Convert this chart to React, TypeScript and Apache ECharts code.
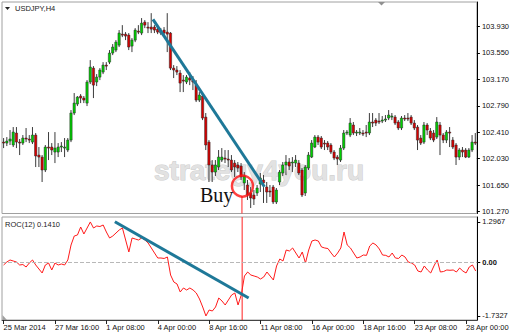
import React, { useEffect, useRef } from 'react';
import * as echarts from 'echarts';

const timeLabels = ['25 Mar 2014', '27 Mar 16:00', '1 Apr 08:00', '4 Apr 00:00', '8 Apr 16:00', '11 Apr 08:00', '16 Apr 00:00', '18 Apr 16:00', '23 Apr 08:00', '28 Apr 00:00'];
const timeLabelBars = [0, 16, 32, 48, 64, 80, 96, 112, 128, 144];
const priceTicks = [101.27, 101.65, 102.03, 102.41, 102.79, 103.17, 103.55, 103.93];
const rocTicks = [1.2967, 0, -1.7327];

// USDJPY H4 candles: [open, close, low, high]
const candles: number[][] = [
  [102.269, 102.255, 102.183, 102.327], [102.255, 102.284, 102.212, 102.341], [102.284, 102.313, 102.227, 102.442], [102.227, 102.413, 102.198, 102.485],
  [102.399, 102.269, 102.183, 102.485], [102.269, 102.255, 102.083, 102.313], [102.255, 102.327, 102.227, 102.370], [102.327, 102.313, 102.269, 102.471],
  [102.313, 102.298, 102.255, 102.370], [102.269, 102.370, 102.241, 102.485], [102.370, 102.069, 101.911, 102.399], [102.083, 102.054, 101.911, 102.198],
  [102.054, 101.868, 101.696, 102.083], [101.868, 102.198, 101.839, 102.227], [102.198, 102.183, 102.011, 102.413], [102.198, 102.155, 102.083, 102.255],
  [102.126, 102.183, 101.968, 102.413], [102.126, 102.198, 102.054, 102.255], [102.198, 102.212, 102.126, 102.269], [102.183, 102.198, 102.054, 102.327],
  [102.155, 102.298, 102.126, 102.327], [102.298, 102.686, 102.269, 102.729], [102.686, 102.829, 102.657, 102.973], [102.815, 102.915, 102.786, 102.930],
  [102.930, 102.901, 102.829, 102.958], [102.901, 102.872, 102.829, 102.930], [102.829, 103.131, 102.786, 103.159], [103.131, 103.346, 103.102, 103.446],
  [103.331, 103.087, 102.901, 103.360], [103.131, 103.202, 103.073, 103.245], [103.202, 103.303, 103.159, 103.331], [103.274, 103.374, 103.245, 103.417],
  [103.374, 103.360, 103.303, 103.417], [103.417, 103.547, 103.389, 103.590], [103.547, 103.633, 103.518, 103.676], [103.590, 103.704, 103.561, 103.733],
  [103.661, 103.834, 103.633, 103.877], [103.819, 103.805, 103.776, 103.948], [103.819, 103.791, 103.733, 103.848], [103.805, 103.633, 103.590, 103.834],
  [103.647, 103.733, 103.561, 103.762], [103.733, 103.877, 103.704, 103.905], [103.862, 103.848, 103.819, 103.948], [103.834, 103.977, 103.805, 104.049],
  [103.991, 103.948, 103.905, 104.020], [103.920, 103.905, 103.834, 103.991], [103.920, 103.891, 103.834, 104.120], [103.920, 103.877, 103.834, 103.948],
  [103.891, 103.848, 103.819, 103.920], [103.862, 103.834, 103.805, 103.905], [103.877, 103.834, 103.791, 103.920], [103.848, 103.819, 103.561, 104.120],
  [103.834, 103.331, 103.303, 103.848], [103.331, 103.303, 103.188, 103.374], [103.303, 103.274, 103.231, 103.360], [103.260, 103.116, 102.987, 103.303],
  [103.159, 103.145, 102.987, 103.231], [103.131, 103.202, 103.102, 103.231], [103.188, 103.159, 103.087, 103.274], [103.159, 103.131, 103.016, 103.217],
  [103.087, 102.872, 102.844, 103.159], [102.872, 102.944, 102.844, 102.987], [102.930, 102.614, 102.585, 102.958], [102.628, 102.227, 102.155, 102.686],
  [102.269, 101.940, 101.696, 102.298], [101.940, 101.839, 101.696, 102.011], [101.839, 101.940, 101.782, 102.011], [101.911, 102.054, 101.868, 102.155],
  [102.011, 102.054, 101.983, 102.183], [102.040, 102.026, 101.968, 102.155], [102.026, 102.011, 101.911, 102.155], [102.011, 101.868, 101.839, 102.083],
  [101.968, 101.911, 101.768, 102.011], [101.940, 101.897, 101.839, 101.983], [101.925, 101.768, 101.725, 101.968], [101.682, 101.782, 101.581, 101.839],
  [101.653, 101.509, 101.438, 101.725], [101.538, 101.466, 101.323, 101.624], [101.509, 101.452, 101.366, 101.581], [101.538, 101.610, 101.495, 101.653],
  [101.667, 101.753, 101.552, 101.825], [101.725, 101.682, 101.395, 101.796], [101.624, 101.552, 101.395, 101.696], [101.567, 101.552, 101.481, 101.653],
  [101.624, 101.409, 101.380, 101.653], [101.409, 101.581, 101.380, 101.610], [101.696, 101.839, 101.653, 101.868], [101.825, 101.940, 101.782, 101.983],
  [101.940, 101.983, 101.796, 102.083], [101.983, 101.925, 101.868, 102.040], [101.968, 101.983, 101.839, 102.054], [101.968, 102.011, 101.911, 102.083],
  [101.968, 101.825, 101.796, 102.011], [101.868, 101.509, 101.481, 101.897], [101.538, 101.911, 101.495, 101.940], [101.897, 102.083, 101.868, 102.126],
  [102.054, 102.255, 102.040, 102.298], [102.198, 102.341, 102.183, 102.370], [102.341, 102.269, 102.227, 102.370], [102.327, 102.198, 102.169, 102.356],
  [102.255, 102.241, 102.155, 102.298], [102.255, 102.198, 102.155, 102.284], [102.227, 102.126, 102.097, 102.255], [102.126, 102.040, 102.011, 102.155],
  [102.054, 102.026, 101.940, 102.083], [102.011, 102.183, 101.983, 102.227], [102.183, 102.399, 102.155, 102.442], [102.399, 102.413, 102.370, 102.442],
  [102.370, 102.542, 102.341, 102.614], [102.514, 102.399, 102.370, 102.557], [102.399, 102.413, 102.356, 102.442], [102.399, 102.413, 102.370, 102.471],
  [102.399, 102.385, 102.356, 102.442], [102.413, 102.399, 102.341, 102.514], [102.399, 102.557, 102.370, 102.686], [102.557, 102.542, 102.485, 102.686],
  [102.585, 102.542, 102.499, 102.614], [102.571, 102.557, 102.528, 102.686], [102.571, 102.585, 102.542, 102.643], [102.585, 102.600, 102.557, 102.657],
  [102.614, 102.657, 102.585, 102.729], [102.628, 102.643, 102.585, 102.686], [102.628, 102.542, 102.514, 102.657], [102.557, 102.471, 102.442, 102.585],
  [102.471, 102.614, 102.442, 102.643], [102.614, 102.600, 102.571, 102.657], [102.614, 102.600, 102.571, 102.686], [102.628, 102.542, 102.514, 102.657],
  [102.542, 102.471, 102.442, 102.585], [102.485, 102.298, 102.155, 102.514], [102.327, 102.255, 102.227, 102.370], [102.269, 102.514, 102.241, 102.557],
  [102.514, 102.442, 102.370, 102.542], [102.428, 102.327, 102.298, 102.471], [102.399, 102.298, 102.269, 102.442], [102.341, 102.557, 102.313, 102.628],
  [102.514, 102.370, 102.083, 102.557], [102.370, 102.298, 102.255, 102.399], [102.298, 102.413, 102.255, 102.442], [102.413, 102.399, 102.198, 102.485],
  [102.298, 102.198, 102.169, 102.341], [102.227, 102.054, 101.940, 102.255], [102.054, 102.155, 102.011, 102.183], [102.155, 102.126, 102.054, 102.198],
  [102.155, 102.054, 102.040, 102.183], [102.054, 102.155, 102.040, 102.183], [102.155, 102.269, 102.126, 102.370], [102.269, 102.255, 102.227, 102.399],
];

// ROC(12) per bar
const roc: number[] = [
  -0.090, 0.006, 0.071, 0.039, 0.006, -0.090, -0.075, -0.155, -0.026, 0.071,
  -0.090, -0.219, -0.348, -0.090, -0.026, -0.251, -0.026, -0.090, -0.058, -0.090,
  0.071, 0.554, 0.844, 0.877, 1.134, 0.909, 1.102, 1.2967, 1.102, 1.167,
  1.150, 1.199, 0.973, 0.780, 0.844, 0.941, 1.038, 1.102, 0.715, 0.329,
  0.780, 0.748, 0.715, 0.780, 0.715, 0.619, 0.458, 0.296, 0.135, 0.135,
  0.120, 0.168, -0.413, -0.638, -0.702, -0.960, -0.831, -0.896, -0.831, -0.896,
  -0.993, -1.186, -1.444, -1.7327, -1.540, -1.573, -1.444, -1.154, -1.250, -1.379,
  -1.218, -1.057, -0.993, -1.379, -1.057, -0.445, -0.316, -0.413, -0.445, -0.477,
  -0.541, -0.477, -0.316, -0.445, -0.574, -0.122, 0.103, 0.039, 0.393, 0.361,
  0.458, 0.296, 0.135, 0.329, -0.026, 0.393, 0.683, 0.715, 0.683, 0.490,
  0.458, 0.440, 0.296, 0.168, 0.296, 0.458, 0.973, 0.554, 0.458, 0.296,
  0.135, 0.168, 0.232, 0.220, 0.522, 0.619, 0.554, 0.425, 0.232, 0.220,
  0.168, 0.296, 0.135, 0.120, 0.232, 0.168, 0.006, -0.026, -0.090, -0.284,
  -0.316, -0.122, -0.251, -0.348, -0.122, 0.071, -0.316, -0.300, -0.251, -0.260,
  -0.251, -0.316, -0.187, -0.284, -0.348, -0.155, -0.090, -0.284,
];

const priceTrend = [[46.55, 104.03], [81.28, 101.628]];
const rocTrend = [[34.64, 1.305], [76.3, -1.154]];
const signalBar = 74.28;
const signalCircle = [74.44, 101.638];
const signalLineTop = 101.495;

const PRICE_MIN = 101.244, PRICE_MAX = 104.28;
const ROC_MIN = -1.8627, ROC_MAX = 1.4567;

export default function App() {
  const ref = useRef<HTMLDivElement>(null);
  useEffect(() => {
    if (!ref.current) return;
    const chart = echarts.init(ref.current, null, { renderer: 'svg' });
    const font = '"Liberation Sans", Arial, sans-serif';
    const fs = 7.5;
    const option: any = {
      animation: false,
      backgroundColor: '#ffffff',
      textStyle: { fontFamily: font },
      grid: [
        { left: 2, top: 2, width: 476, height: 211.5, show: true, borderColor: '#a0a0a0', borderWidth: 1 },
        { left: 2, top: 217, width: 476, height: 103, show: true, borderColor: '#a0a0a0', borderWidth: 1 },
      ],
      xAxis: [
        { type: 'value', gridIndex: 0, min: -0.5, max: 147.5, show: false },
        {
          type: 'value', gridIndex: 1, min: -0.5, max: 147.5, position: 'bottom',
          splitLine: { show: false },
          axisLine: { show: true, onZero: false, lineStyle: { color: '#444', width: 1 } },
          axisTick: { show: true, customValues: timeLabelBars, length: 4, lineStyle: { color: '#222' } },
          axisLabel: {
            customValues: timeLabelBars,
            formatter: (v: number) => timeLabels[timeLabelBars.indexOf(Math.round(v))] ?? '',
            align: 'left', fontSize: fs, color: '#111', margin: 3, fontFamily: font,
          },
        },
      ],
      yAxis: [
        {
          type: 'value', gridIndex: 0, position: 'right', min: PRICE_MIN, max: PRICE_MAX,
          splitLine: { show: false },
          axisLine: { show: true, onZero: false, lineStyle: { color: '#000' } },
          axisTick: { show: true, customValues: priceTicks, length: 3, lineStyle: { color: '#000' } },
          axisLabel: { customValues: priceTicks, formatter: (v: number) => v.toFixed(3), fontSize: fs, color: '#111', margin: 5, fontFamily: font },
        },
        {
          type: 'value', gridIndex: 1, position: 'right', min: ROC_MIN, max: ROC_MAX,
          splitLine: { show: false },
          axisLine: { show: true, onZero: false, lineStyle: { color: '#000' } },
          axisTick: { show: true, customValues: rocTicks, length: 3, lineStyle: { color: '#000' } },
          axisLabel: {
            customValues: rocTicks,
            formatter: (v: number) => (Math.abs(v) < 1e-9 ? '{b|0.00}' : v.toFixed(4)),
            rich: { b: { fontWeight: 'bold', fontSize: fs, color: '#111', fontFamily: font } },
            fontSize: fs, color: '#111', margin: 5, fontFamily: font,
          },
        },
      ],
      series: [
        {
          type: 'custom', name: 'candles', xAxisIndex: 0, yAxisIndex: 0, z: 3,
          data: candles.map((c, i) => [i, c[0], c[1], c[2], c[3]]),
          encode: { x: 0, y: [1, 2, 3, 4] },
          renderItem: (params: any, api: any) => {
            const i = api.value(0);
            const o = api.value(1), c = api.value(2), l = api.value(3), h = api.value(4);
            const pO = api.coord([i, o]);
            const pC = api.coord([i, c]);
            const pL = api.coord([i, l]);
            const pH = api.coord([i, h]);
            const w = api.size([1, 0])[0] * 0.72;
            const x = pO[0];
            const top = Math.min(pO[1], pC[1]);
            const hgt = Math.max(1, Math.abs(pO[1] - pC[1]));
            const fill = c > o ? '#00d000' : c < o ? '#d80000' : '#222';
            return {
              type: 'group',
              children: [
                { type: 'line', shape: { x1: x, y1: pH[1], x2: x, y2: pL[1] }, style: { stroke: '#3c3c3c', lineWidth: 1 } },
                { type: 'rect', shape: { x: x - w / 2, y: top, width: w, height: hgt }, style: { fill, stroke: '#262626', lineWidth: 0.5 } },
              ],
            };
          },
        },
        {
          type: 'line', name: 'priceTrend', xAxisIndex: 0, yAxisIndex: 0, z: 5,
          data: priceTrend, symbol: 'none', lineStyle: { color: '#1e7898', width: 3 }, silent: true,
        },
        {
          type: 'line', name: 'signalMain', xAxisIndex: 0, yAxisIndex: 0, z: 4,
          data: [[signalBar, signalLineTop], [signalBar, PRICE_MIN]], symbol: 'none', lineStyle: { color: '#ff2020', width: 1 }, silent: true,
        },
        {
          type: 'scatter', name: 'circle', xAxisIndex: 0, yAxisIndex: 0, z: 6,
          data: [signalCircle], symbol: 'circle', symbolSize: 21,
          itemStyle: { color: 'rgba(0,0,0,0)', borderColor: '#ff1010', borderWidth: 2.5 }, silent: true,
        },
        {
          type: 'line', name: 'ROC', xAxisIndex: 1, yAxisIndex: 1, z: 3,
          data: roc.map((v, i) => [i, v]), symbol: 'none', lineStyle: { color: '#ff1a1a', width: 1 }, silent: true,
          markLine: {
            silent: true, symbol: ['none', 'none'], label: { show: false },
            lineStyle: { color: '#b8b8b8', type: 'dashed', width: 1 },
            data: [{ yAxis: 0 }],
          },
        },
        {
          type: 'line', name: 'rocTrend', xAxisIndex: 1, yAxisIndex: 1, z: 5,
          data: rocTrend, symbol: 'none', lineStyle: { color: '#1e7898', width: 3 }, silent: true,
        },
        {
          type: 'line', name: 'signalRoc', xAxisIndex: 1, yAxisIndex: 1, z: 4,
          data: [[signalBar, ROC_MAX], [signalBar, ROC_MIN]], symbol: 'none', lineStyle: { color: '#ff2020', width: 1 }, silent: true,
        },
      ],
      graphic: [
        {
          type: 'text', z: 0, silent: true,
          style: { text: 'strategy4you.ru', x: 154, y: 170, verticalAlign: 'middle', font: 'bold 28px "Liberation Sans", Arial, sans-serif', fill: '#e2e2e2', stroke: '#cdcdcd', lineWidth: 1 },
        },
        {
          type: 'text', z: 100, silent: true,
          style: { text: 'Buy', x: 200, y: 195, verticalAlign: 'middle', font: '20px "Liberation Serif", "Times New Roman", serif', fill: '#111' },
        },
        { type: 'polygon', z: 100, silent: true, shape: { points: [[5, 7], [10, 7], [7.5, 10]] }, style: { fill: '#222' } },
        {
          type: 'text', z: 100, silent: true,
          style: { text: 'USDJPY,H4', x: 15, y: 8.5, verticalAlign: 'middle', font: `${fs}px ${font}`, fill: '#1a1a1a' },
        },
        {
          type: 'text', z: 100, silent: true,
          style: { text: 'ROC(12) 0.1410', x: 5, y: 224, verticalAlign: 'middle', font: `${fs}px ${font}`, fill: '#1a1a1a' },
        },
        { type: 'polygon', z: 100, silent: true, shape: { points: [[378, 2], [385, 2], [381.5, 5.5]] }, style: { fill: '#909090' } },
        { type: 'polygon', z: 100, silent: true, shape: { points: [[2.5, 315], [2.5, 320], [7, 320]] }, style: { fill: '#a0a0a0' } },
      ],
    };
    chart.setOption(option);
    return () => chart.dispose();
  }, []);
  return (
    <div
      ref={ref}
      style={{ position: 'fixed', left: 0, top: 0, width: 512, height: 336, background: '#fff' }}
    />
  );
}
